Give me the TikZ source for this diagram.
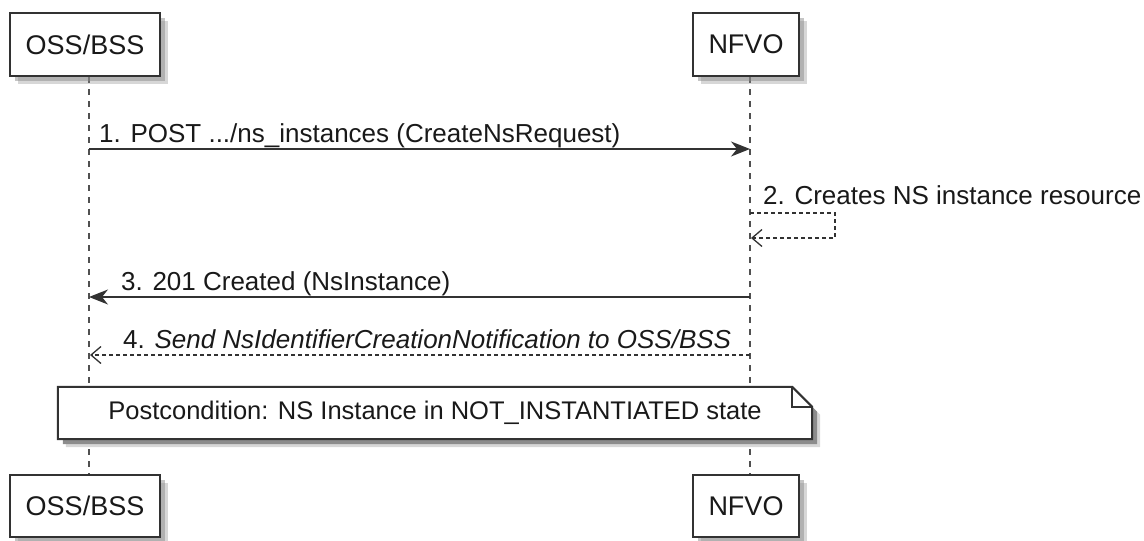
\documentclass[tikz,border=0pt]{standalone}
\usepackage{fontspec}
\setmainfont{Liberation Sans}
\usetikzlibrary{arrows.meta,shadows,backgrounds}
\definecolor{linecol}{RGB}{50,50,50}
\definecolor{lifecol}{RGB}{80,80,80}
\definecolor{txtcol}{RGB}{25,25,25}
\definecolor{shadowcol}{RGB}{140,140,140}
\tikzstyle{participant} = [draw=linecol, line width=2pt, fill=white, inner sep=0pt,
    text=txtcol, font=\fontsize{27}{30}\selectfont,
    drop shadow={shadow xshift=8pt, shadow yshift=-8pt, fill=shadowcol, opacity=.35},
    drop shadow={shadow xshift=5pt, shadow yshift=-5pt, fill=shadowcol}]
\tikzstyle{lifeline} = [draw=lifecol, line width=1.2pt, dash pattern=on 6pt off 6pt]
\tikzstyle{call} = [draw=linecol, line width=1.6pt, -{Stealth[length=19pt,width=15pt,inset=6pt]}]
\tikzstyle{reply} = [draw=linecol, line width=1.3pt, dash pattern=on 4pt off 3pt,
    -{Straight Barb[length=10pt,width=17pt,line width=1.3pt]}]
\tikzstyle{msgtext} = [anchor=base west, inner sep=0pt, text=txtcol, font=\fontsize{26}{30}\selectfont]

\begin{document}
\begin{tikzpicture}[x=1pt, y=-1pt]
    \useasboundingbox (0,0) rectangle (1144,541);
    \coordinate (ossLine) at (89,0);
    \coordinate (nfvoLine) at (750,0);

    % participants
    \node[participant, minimum width=150pt, minimum height=63pt] (ossTop) at (85,44.5) {OSS/BSS};
    \node[participant, minimum width=106pt, minimum height=63pt] (nfvoTop) at (746,44.5) {NFVO};
    \node[participant, minimum width=150pt, minimum height=62pt] (ossBot) at (85,506) {OSS/BSS};
    \node[participant, minimum width=106pt, minimum height=62pt] (nfvoBot) at (746,506) {NFVO};

    % note
    \node[minimum width=754pt, minimum height=52pt, inner sep=0pt, text=txtcol,
          font=\fontsize{25.5}{30}\selectfont] (note) at (435,413)
          {Postcondition: NS Instance in NOT\_INSTANTIATED state};

    \begin{pgfonlayer}{background}
    % lifelines
    \draw[lifeline] (ossTop.south -| ossLine) -- (ossBot.north -| ossLine);
    \draw[lifeline] (nfvoTop.south -| nfvoLine) -- (nfvoBot.north -| nfvoLine);

    \fill[shadowcol, opacity=.35] ([shift={(8pt,-8pt)}]note.north west) -- ([shift={(-12pt,-8pt)}]note.north east)
        -- ([shift={(8pt,-28pt)}]note.north east) -- ([shift={(8pt,-8pt)}]note.south east)
        -- ([shift={(8pt,-8pt)}]note.south west) -- cycle;
    \fill[shadowcol] ([shift={(5pt,-5pt)}]note.north west) -- ([shift={(-15pt,-5pt)}]note.north east)
        -- ([shift={(5pt,-25pt)}]note.north east) -- ([shift={(5pt,-5pt)}]note.south east)
        -- ([shift={(5pt,-5pt)}]note.south west) -- cycle;
    \draw[linecol, line width=2pt, fill=white] (note.north west) -- ([xshift=-20pt]note.north east)
        -- ([yshift=-20pt]note.north east) -- (note.south east) -- (note.south west) -- cycle;
    \draw[linecol, line width=2pt] ([xshift=-20pt]note.north east) |- ([yshift=-20pt]note.north east);
    \end{pgfonlayer}

    % messages
    \coordinate (oss1) at (89,149);
    \coordinate (nfvo1) at (750,149);
    \node[msgtext] (m1) at (99,142) {1. POST .../ns\_instances (CreateNsRequest)};
    \draw[call] (oss1) -- (nfvo1);

    \coordinate (nfvo2a) at (750,213);
    \coordinate (nfvo2b) at (751,238);
    \node[msgtext] (m2) at (763,204) {2. Creates NS instance resource};
    \draw[reply] (nfvo2a) -- ++(85,0) |- (nfvo2b);

    \coordinate (nfvo3) at (750,297);
    \coordinate (oss3) at (89,297);
    \node[msgtext] (m3) at (121,290) {3. 201 Created (NsInstance)};
    \draw[call] (nfvo3) -- (oss3);

    \coordinate (nfvo4) at (750,355);
    \coordinate (oss4) at (90,355);
    \node[msgtext] (m4) at (123,348) {4. \textit{Send NsIdentifierCreationNotification to OSS/BSS}};
    \draw[reply] (nfvo4) -- (oss4);
\end{tikzpicture}
\end{document}
